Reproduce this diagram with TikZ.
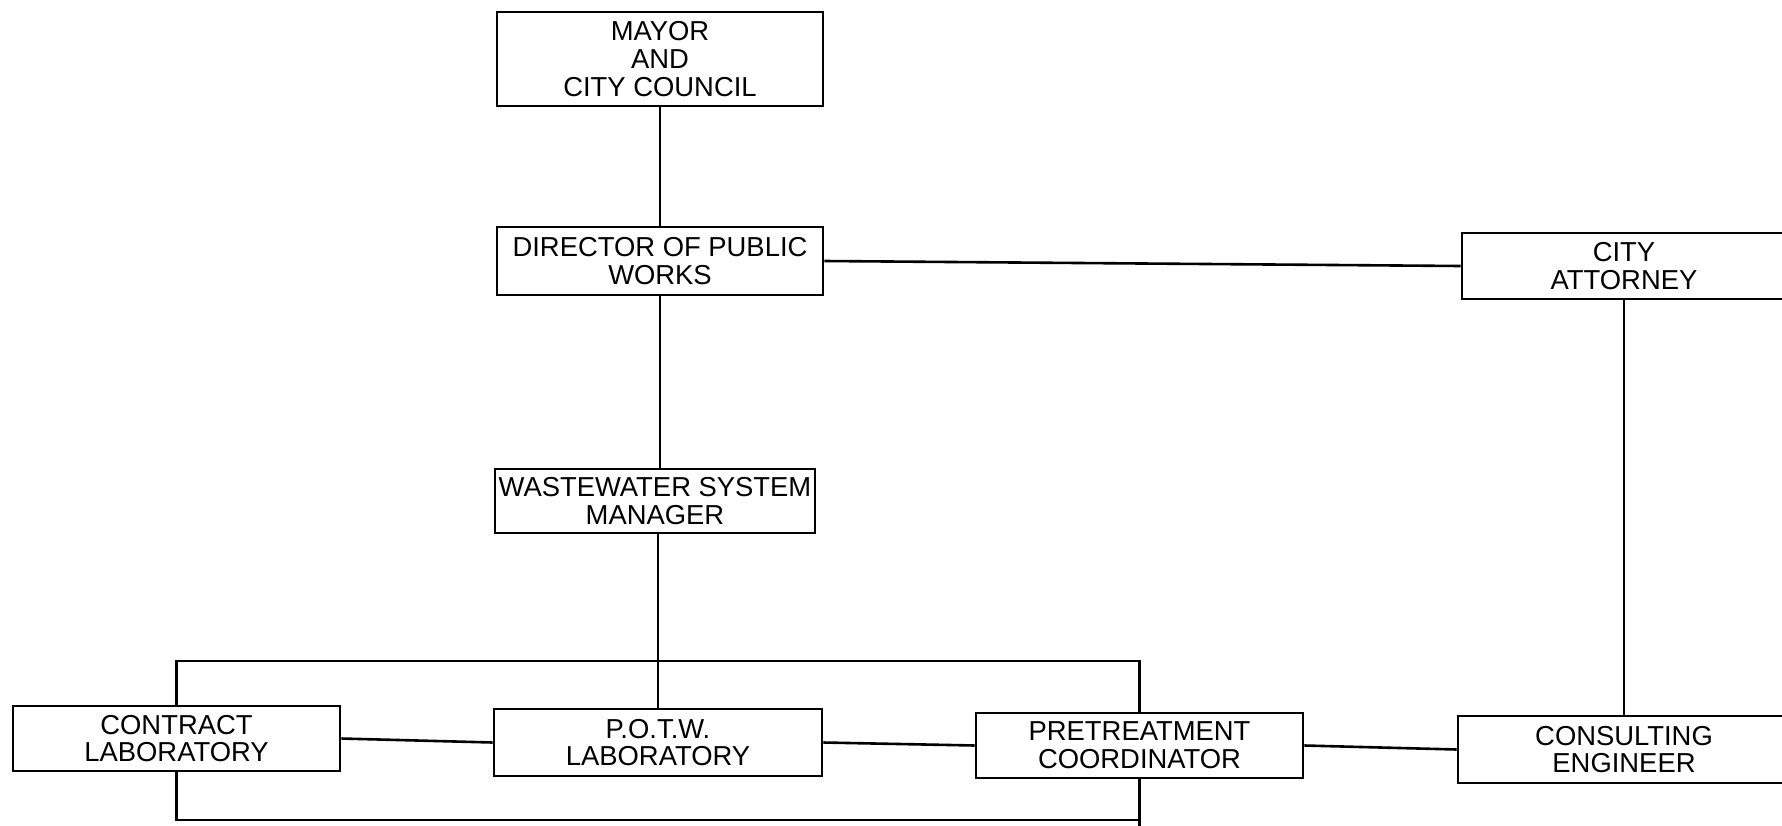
\documentclass[tikz,border=0pt]{standalone}
\usepackage{fontspec}
\setmainfont{Liberation Sans}
\begin{document}
\begin{tikzpicture}[x=0.5pt,y=-0.5pt,
  box/.style={draw,line width=1.3pt,rectangle,inner sep=0pt,align=center,
    font=\fontsize{13.7}{13.9}\selectfont},
  link/.style={line width=1.3pt}]
\useasboundingbox (0,0) rectangle (1782,825);
\clip (0,0) rectangle (1782,825);
\node[box,minimum width=163pt,minimum height=47pt] (mayor) at (660,59) {MAYOR\\AND\\CITY COUNCIL};
\node[box,minimum width=163pt,minimum height=34pt] (dir) at (660,261) {DIRECTOR OF PUBLIC\\WORKS};
\node[box,minimum width=162pt,minimum height=33pt] (att) at (1624,266) {CITY\\ATTORNEY};
\node[box,minimum width=160pt,minimum height=32pt] (ww) at (655,501) {WASTEWATER SYSTEM\\MANAGER};
\node[box,minimum width=163.5pt,minimum height=32.5pt] (cl) at (176.5,738.5) {CONTRACT\\LABORATORY};
\node[box,minimum width=164pt,minimum height=33.5pt] (potw) at (658,742.5) {P.O.T.W.\\LABORATORY};
\node[box,minimum width=163.5pt,minimum height=32.5pt] (pre) at (1139.5,745.5) {PRETREATMENT\\COORDINATOR};
\node[box,minimum width=166pt,minimum height=33.5pt] (ce) at (1624,749.5) {CONSULTING\\ENGINEER};
\draw[link] (mayor.south) -- (dir.north);
\draw[link] (dir.south) -- (dir.south |- ww.north);
\draw[link] (potw.north |- ww.south) -- (potw.north);
\draw[link] (dir.east) -- (att.west);
\draw[link] (att.south) -- (ce.north);
\draw[link] (cl.east) -- (potw.west);
\draw[link] (potw.east) -- (pre.west);
\draw[link] (pre.east) -- (ce.west);
\coordinate (topbar) at (0,661);
\coordinate (botbar) at (0,820);
\draw[link] (cl.north) -- (cl.north |- topbar) -| (pre.north);
\draw[link] (cl.south) -- (cl.south |- botbar) -| (pre.south);
\draw[link] (pre.south |- botbar) -- ++(0,10);
\end{tikzpicture}
\end{document}
